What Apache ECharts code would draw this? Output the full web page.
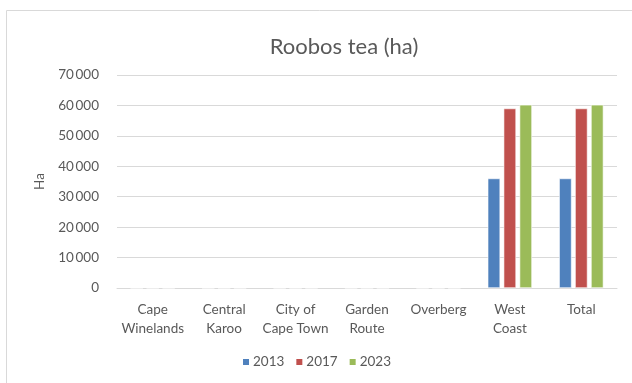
<!DOCTYPE html>
<html>
<head>
<meta charset="utf-8">
<script src="https://cdn.jsdelivr.net/npm/echarts@6/dist/echarts.min.js"></script>
<style>
html, body { margin: 0; padding: 0; background: #fff; }
#chart { width: 632px; height: 383px; }
</style>
</head>
<body>
<div id="chart"></div>
<script>
// Roobos tea planted area (ha) by district
const categories = ['Cape\nWinelands', 'Central\nKaroo', 'City of\nCape Town', 'Garden\nRoute', 'Overberg', 'West\nCoast', 'Total'];
const years = ['2013', '2017', '2023'];
const values2013 = [0, 0, 0, 0, 0, 36000, 36000];
const values2017 = [0, 0, 0, 0, 0, 59000, 59000];
const values2023 = [0, 0, 0, 0, 0, 60200, 60200];
const colors = ['#4F81BD', '#C0504D', '#9BBB59'];

const textColor = '#595959';
const font = 'Lato, "Open Sans", sans-serif';

function fmt(v) {
  return String(v).replace(/\B(?=(\d{3})+(?!\d))/g, '\u2009');
}

const seriesData = [values2013, values2017, values2023];

const chart = echarts.init(document.getElementById('chart'));
chart.setOption({
  animation: false,
  textStyle: { fontFamily: font },
  title: {
    text: 'Roobos tea (ha)',
    left: 339, top: 31, textAlign: 'center',
    textStyle: { color: textColor, fontSize: 22, fontWeight: 'normal', fontFamily: font }
  },
  graphic: [{
    type: 'rect',
    shape: { x: 6.5, y: 10.5, width: 700, height: 400 },
    style: { fill: 'none', stroke: '#d9d9d9', lineWidth: 1 },
    silent: true
  }],
  legend: {
    data: years,
    bottom: 9, left: 'center',
    itemWidth: 8, itemHeight: 8, itemGap: 10,
    icon: 'rect',
    textStyle: { color: textColor, fontSize: 13.5, fontFamily: font, padding: [0, 0, 0, -2] }
  },
  grid: { left: 117, right: 15, top: 75, bottom: 95 },
  xAxis: {
    type: 'category',
    data: categories,
    axisLine: { lineStyle: { color: '#d9d9d9', width: 1 } },
    axisTick: { show: false },
    axisLabel: { color: textColor, fontSize: 13.5, lineHeight: 19, margin: 12, interval: 0, fontFamily: font }
  },
  yAxis: {
    type: 'value',
    min: 0, max: 70000, interval: 10000,
    name: 'Ha',
    nameLocation: 'middle',
    nameGap: 70,
    nameTextStyle: { color: textColor, fontSize: 13.5, fontFamily: font },
    axisLine: { show: false },
    axisTick: { show: false },
    axisLabel: { color: textColor, fontSize: 13.5, margin: 18, formatter: fmt, fontFamily: font },
    splitLine: { lineStyle: { color: '#d9d9d9', width: 1 } }
  },
  series: years.map((y, i) => ({
    name: y,
    type: 'bar',
    data: seriesData[i],
    barGap: '28%',
    barCategoryGap: '38%',
    itemStyle: { color: colors[i], borderColor: '#ffffff', borderWidth: 0.6 }
  }))
});
</script>
</body>
</html>
